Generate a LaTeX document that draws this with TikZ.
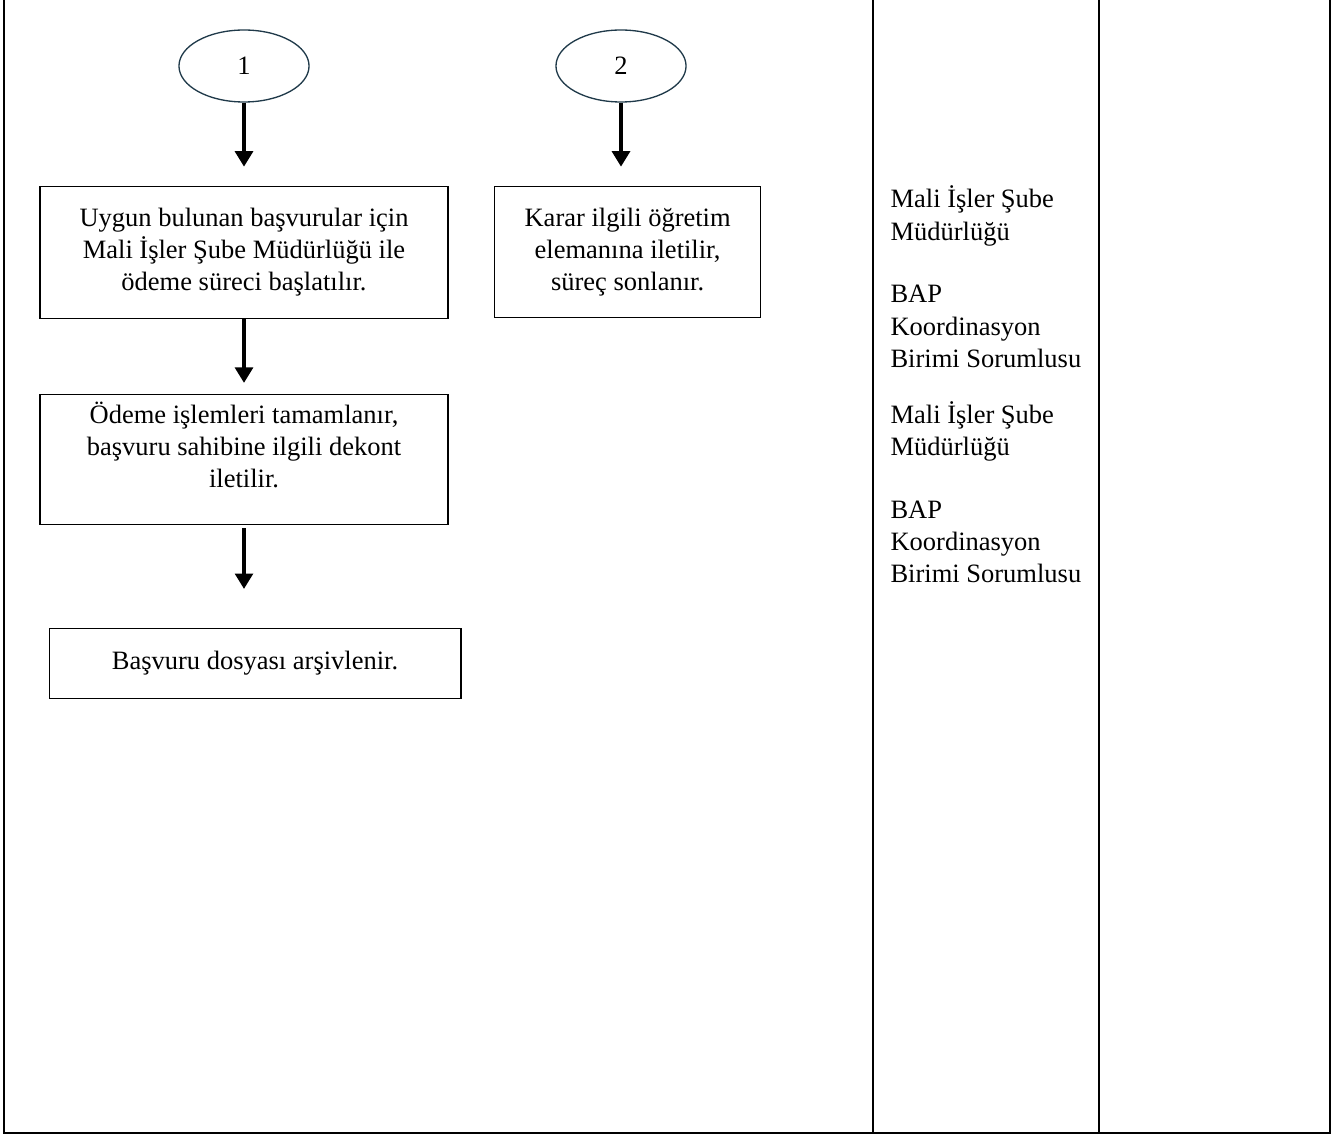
\documentclass[tikz,border=0pt]{standalone}
\usepackage{fontspec}
\setmainfont{Liberation Serif}
\usetikzlibrary{arrows.meta}
\usetikzlibrary{positioning}
\usetikzlibrary{shapes.geometric}
\definecolor{ovalline}{HTML}{203A4A}

\begin{document}
\begin{tikzpicture}[
				x=0.4528pt, y=-0.4528pt,
				font=\fontsize{12}{14.5}\selectfont,
				line width=0.5pt,
				arrow/.style={line width=1.7pt, -{Triangle[length=7pt,width=8pt]}},
				conn/.style={ellipse, draw=ovalline, line width=0.6pt, minimum width=58.9pt, minimum height=32.6pt, inner sep=0pt},
				box/.style={rectangle, draw, align=center, inner sep=0pt},
				who/.style={anchor=base west, text width=100pt, align=flush left, inner sep=0pt},
			]
				\useasboundingbox (0,0) rectangle (1334,1135);
				% table frame
				\draw[line width=0.9pt] (4,0) -- (4,1133) -- (1330,1133) -- (1330,0);
				\draw[line width=0.9pt] (873,0) -- (873,1133);
				\draw[line width=0.9pt] (1099,0) -- (1099,1133);

				\node (c1) [conn] at (244,66) {\raisebox{-1.8pt}{1}};
				\node (c2) [conn] at (621,66) {\raisebox{-1.8pt}{2}};
				\node (pay) [box, minimum width=184.7pt, minimum height=59.8pt, below=37.6pt of c1] {Uygun bulunan başvurular için\\Mali İşler Şube Müdürlüğü ile\\ödeme süreci başlatılır.};
				\node (end) [box, minimum width=120.4pt, minimum height=59.3pt, below=37.6pt of c2, xshift=3pt] {Karar ilgili öğretim\\elemanına iletilir,\\süreç sonlanır.};
				\node (done) [box, minimum width=184.7pt, minimum height=58.9pt, below=34pt of pay] {Ödeme işlemleri tamamlanır,\\başvuru sahibine ilgili dekont\\iletilir.\\[-1pt]\mbox{}};
				\node (arch) [box, minimum width=186.5pt, minimum height=31.7pt, below=46.6pt of done, xshift=5pt] {Başvuru dosyası arşivlenir.};

				\node (r1) [who] at (890,208) {Mali İşler Şube\\Müdürlüğü};
				\node (r2) [who] at (890,303) {BAP\\Koordinasyon\\Birimi Sorumlusu};
				\node (r3) [who] at (890,423) {Mali İşler Şube\\Müdürlüğü};
				\node (r4) [who] at (890,518) {BAP\\Koordinasyon\\Birimi Sorumlusu};

				\draw[arrow, shorten >=8.6pt] (c1.south) -- (c1.south |- pay.north);
				\draw[arrow, shorten >=8.6pt] (c2.south) -- (c2.south |- end.north);
				\draw[arrow, shorten >=5pt] (pay.south) -- (done.north);
				\draw[arrow, shorten <=1.4pt, shorten >=17.7pt] (done.south) -- (done.south |- arch.north);
			\end{tikzpicture}
\end{document}
